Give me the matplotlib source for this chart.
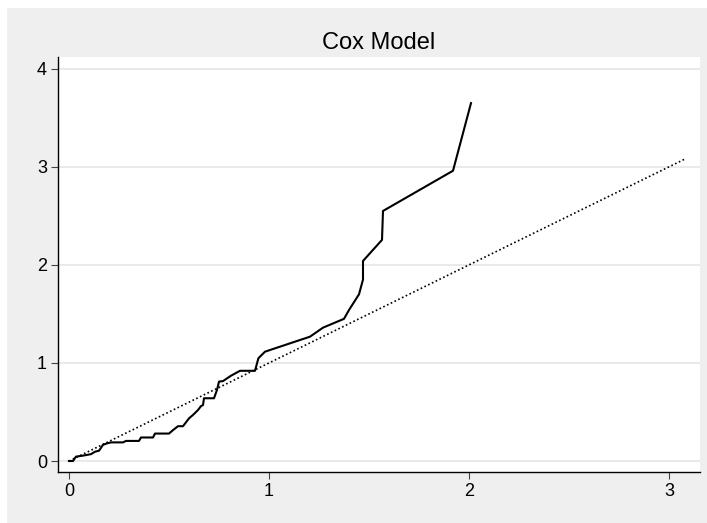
import numpy as np
import matplotlib
matplotlib.use("Agg")
import matplotlib.pyplot as plt
from matplotlib.patches import Rectangle

plt.rcParams['font.family'] = ['Liberation Sans', 'DejaVu Sans']

# Cox-Snell residuals vs Nelson-Aalen cumulative hazard
cs_resid = [0.0, 0.02, 0.035, 0.07, 0.11, 0.13, 0.15, 0.17, 0.19, 0.21, 0.27,
            0.285, 0.35, 0.36, 0.42, 0.43, 0.50, 0.52, 0.545, 0.57, 0.60, 0.62,
            0.645, 0.66, 0.67, 0.675, 0.725, 0.74, 0.75, 0.77, 0.81, 0.855,
            0.93, 0.947, 0.98, 1.205, 1.27, 1.375, 1.40, 1.45, 1.47, 1.47,
            1.565, 1.57, 1.92, 2.01]
cum_haz = [0.0, 0.0, 0.045, 0.055, 0.07, 0.095, 0.105, 0.165, 0.18, 0.19, 0.19,
           0.205, 0.205, 0.24, 0.24, 0.28, 0.28, 0.315, 0.355, 0.355, 0.435,
           0.47, 0.52, 0.56, 0.57, 0.64, 0.64, 0.725, 0.81, 0.815, 0.87, 0.92,
           0.92, 1.048, 1.115, 1.268, 1.36, 1.45, 1.54, 1.70, 1.85, 2.04,
           2.255, 2.55, 2.96, 3.65]

# 45-degree reference line over the residual range
ref_line = [0.0, 3.08]

xticks = [0, 1, 2, 3]
yticks = [0, 1, 2, 3, 4]

bg = '#efefef'
fig = plt.figure(figsize=(7.07, 5.23), dpi=100, facecolor='white')
fig.patches.append(Rectangle((7 / 707, 0), 1, 1 - 8 / 523,
                             transform=fig.transFigure, facecolor=bg,
                             edgecolor='none', zorder=-10))
ax = fig.add_axes([58 / 707, 51 / 523, 642 / 707, 415 / 523])
ax.set_facecolor('white')

ax.plot(cs_resid, cum_haz, color='black', lw=1.5, zorder=3)
ax.plot(ref_line, ref_line, color='black', lw=1.2, ls=(0, (1, 1.5)), zorder=3)

ax.set_xlim(-0.055, 3.155)
ax.set_ylim(-0.112, 4.12)
ax.set_xticks(xticks)
ax.set_yticks(yticks)
ax.yaxis.grid(True, color='#e6e6e6', lw=1.2)
ax.set_axisbelow(True)

for s in ['top', 'right']:
    ax.spines[s].set_visible(False)
for s in ['left', 'bottom']:
    ax.spines[s].set_linewidth(1.0)
ax.tick_params(direction='out', length=5, width=0.8, labelsize=13, pad=3,
               color='#444444')

ax.set_title('Cox Model', fontsize=17, pad=6)

fig.savefig('out.png', dpi=100, facecolor=fig.get_facecolor())
